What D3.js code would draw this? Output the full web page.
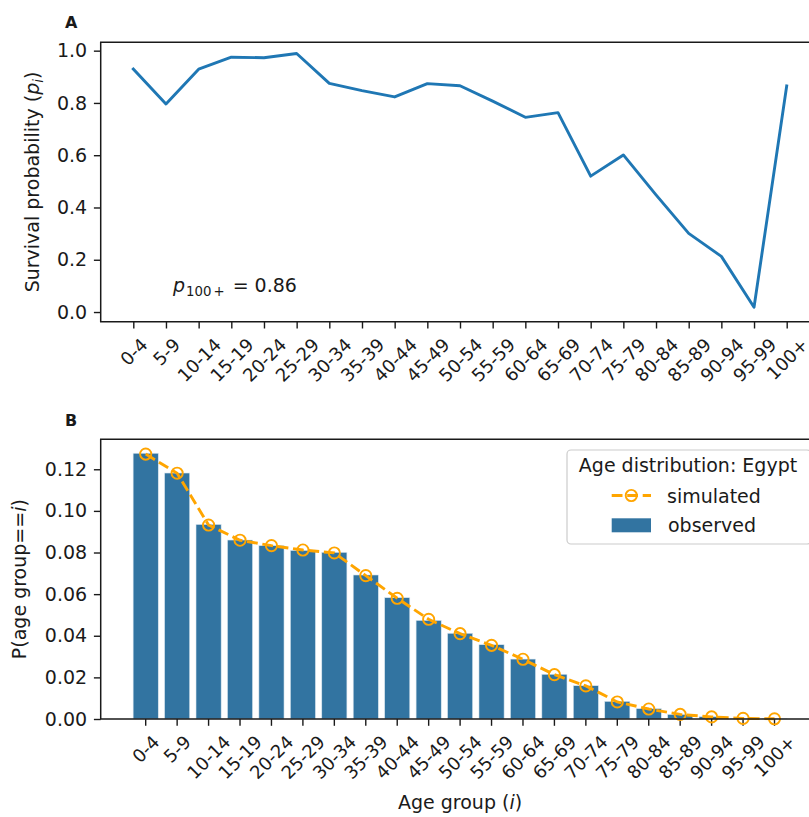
<!DOCTYPE html>
<html><head><meta charset="utf-8">
<script src="https://cdn.jsdelivr.net/npm/d3@7"></script>
<style>
body{margin:0;background:#fff}
svg{display:block}
text{font-family:"DejaVu Sans",sans-serif;fill:#1a1a1a}
</style>
</head><body>
<svg id="c" width="809" height="817"></svg>
<script>
// ---------- data ----------
const ageGroups = ["0-4","5-9","10-14","15-19","20-24","25-29","30-34","35-39","40-44","45-49",
  "50-54","55-59","60-64","65-69","70-74","75-79","80-84","85-89","90-94","95-99","100+"];
const survival = [0.930,0.796,0.929,0.975,0.973,0.989,0.875,0.847,0.823,0.874,
  0.866,0.807,0.745,0.763,0.520,0.601,0.448,0.301,0.213,0.018,0.865];
const observed = [0.1277,0.1182,0.0935,0.0860,0.0833,0.0810,0.0801,0.0692,0.0583,0.0474,
  0.0412,0.0357,0.0288,0.0215,0.0160,0.0085,0.0050,0.0022,0.0011,0.0003,0.0001];
const simulated = [0.1273,0.1181,0.0932,0.0859,0.0833,0.0812,0.0798,0.0689,0.0580,0.0479,
  0.0410,0.0354,0.0287,0.0213,0.0159,0.0082,0.0048,0.0022,0.0010,0.0003,0.0001];
const yTicksA = [0.0,0.2,0.4,0.6,0.8,1.0];
const yTicksB = [0.00,0.02,0.04,0.06,0.08,0.10,0.12];
const pAnnot = "0.86";

// ---------- layout ----------
const FS = 19, FSX = 18;
const TL = 6.8, TP = 6.8;
const L = 100.7, R = 819.4;
const A = {top:42.3, bot:321.7};
const B = {top:439.3, bot:719};
const svg = d3.select("#c");

// scales
const xA = d3.scalePoint().domain(ageGroups).range([133.3, 786.7]);
const yA = d3.scaleLinear().domain([-0.037, 1.032]).range([A.bot, A.top]);
const step = 31.44;
const xB = d3.scaleBand().domain(ageGroups)
  .range([145.7 - 0.5*step, 145.7 + 20.5*step]).paddingInner(0.2).paddingOuter(0.1);
const yB = d3.scaleLinear().domain([0, 0.1344]).range([B.bot, B.top]);

function styleAxis(g){
  g.select(".domain").remove();
  g.selectAll(".tick line").attr("stroke","#1a1a1a").attr("stroke-width",1.4);
  g.selectAll(".tick text").attr("font-size",FS).attr("fill","#1a1a1a")
    .attr("font-family","DejaVu Sans");
}
function rotateLabels(g){
  g.selectAll(".tick text").each(function(){
    const t = d3.select(this);
    t.attr("font-size",FSX).attr("y",0).attr("dy",null).attr("text-anchor","middle")
     .attr("dominant-baseline","central");
    const w = this.getComputedTextLength();
    const h = FSX*0.95;
    const cy = TL + TP + (w + h)/(2*Math.SQRT2);
    t.attr("transform",`translate(0,${cy}) rotate(-45)`);
  });
}

// ---------- Panel A ----------
const gA = svg.append("g");
gA.append("g").attr("transform",`translate(${L},0)`)
  .call(d3.axisLeft(yA).tickValues(yTicksA).tickFormat(d3.format(".1f")).tickSize(TL).tickPadding(TP))
  .call(styleAxis);
const axA = gA.append("g").attr("transform",`translate(0,${A.bot})`)
  .call(d3.axisBottom(xA).tickSize(TL).tickPadding(TP))
  .call(styleAxis);
rotateLabels(axA);

gA.append("path").datum(survival)
  .attr("fill","none").attr("stroke","#1f77b4").attr("stroke-width",2.9)
  .attr("stroke-linejoin","round").attr("stroke-linecap","square")
  .attr("d", d3.line().x((d,i)=>xA(ageGroups[i])).y(d=>yA(d)));

// spines
gA.append("path").attr("fill","none").attr("stroke","#1a1a1a").attr("stroke-width",1.5)
  .attr("d",`M${R},${A.top}H${L}V${A.bot}H${R}`);

// annotation
const ann = gA.append("text").attr("x",173).attr("y",292).attr("font-size",FS);
ann.append("tspan").attr("font-style","italic").text("p");
ann.append("tspan").attr("font-size",FS*0.7).attr("dy",3.5).attr("dx",1).text("100");
ann.append("tspan").attr("font-size",FS*0.7).attr("dx",2).text("+");
ann.append("tspan").attr("dy",-3.5).attr("dx",2).text(" = " + pAnnot);

// ylabel A
const ylA = gA.append("text").attr("font-size",FS).attr("text-anchor","middle")
  .attr("transform",`translate(39,${(A.top+A.bot)/2}) rotate(-90)`);
ylA.append("tspan").text("Survival probability (");
ylA.append("tspan").attr("font-style","italic").text("p");
ylA.append("tspan").attr("font-style","italic").attr("font-size",FS*0.7).attr("dy",3.5).text("i");
ylA.append("tspan").attr("dy",-3.5).text(")");

gA.append("text").attr("x",65).attr("y",28).attr("font-size",16).attr("font-weight","bold").text("A");

// ---------- Panel B ----------
const gB = svg.append("g");
gB.selectAll("rect.bar").data(observed).join("rect").attr("class","bar")
  .attr("x",(d,i)=>xB(ageGroups[i])).attr("width",xB.bandwidth())
  .attr("y",d=>yB(d)).attr("height",d=>yB(0)-yB(d))
  .attr("fill","#3274a1").attr("stroke","#dce8f0").attr("stroke-width",0.6);

gB.append("g").attr("transform",`translate(${L},0)`)
  .call(d3.axisLeft(yB).tickValues(yTicksB).tickFormat(d3.format(".2f")).tickSize(TL).tickPadding(TP))
  .call(styleAxis);
const axB = gB.append("g").attr("transform",`translate(0,${B.bot})`)
  .call(d3.axisBottom(xB).tickSize(TL).tickPadding(TP))
  .call(styleAxis);
rotateLabels(axB);

const cx = (d,i)=>xB(ageGroups[i]) + xB.bandwidth()/2;
gB.append("path").datum(simulated)
  .attr("fill","none").attr("stroke","#ffa500").attr("stroke-width",2.9)
  .attr("stroke-dasharray","10.8,4.7")
  .attr("d", d3.line().x(cx).y(d=>yB(d)));
gB.selectAll("circle.sim").data(simulated).join("circle").attr("class","sim")
  .attr("cx",cx).attr("cy",d=>yB(d)).attr("r",5.6)
  .attr("fill","none").attr("stroke","#ffa500").attr("stroke-width",1.9);

gB.append("path").attr("fill","none").attr("stroke","#1a1a1a").attr("stroke-width",1.5)
  .attr("d",`M${R},${B.top}H${L}V${B.bot}H${R}`);

// labels
const ylB = gB.append("text").attr("font-size",FS).attr("text-anchor","middle")
  .attr("transform",`translate(25.5,${(B.top+B.bot)/2}) rotate(-90)`);
ylB.append("tspan").text("P(age group==");
ylB.append("tspan").attr("font-style","italic").text("i");
ylB.append("tspan").text(")");

const xlB = gB.append("text").attr("font-size",FS).attr("text-anchor","middle")
  .attr("x",(L+R)/2).attr("y",809);
xlB.append("tspan").text("Age group (");
xlB.append("tspan").attr("font-style","italic").text("i");
xlB.append("tspan").text(")");

gB.append("text").attr("x",65).attr("y",426).attr("font-size",16).attr("font-weight","bold").text("B");

// legend
const lg = gB.append("g");
lg.append("rect").attr("x",567).attr("y",450).attr("width",244).attr("height",94)
  .attr("rx",4).attr("fill","#fff").attr("fill-opacity",0.8)
  .attr("stroke","#cccccc").attr("stroke-width",1.2);
lg.append("text").attr("x",688).attr("y",472).attr("font-size",FS).attr("text-anchor","middle")
  .text("Age distribution: Egypt");
lg.append("line").attr("x1",611.7).attr("x2",651).attr("y1",495.5).attr("y2",495.5)
  .attr("stroke","#ffa500").attr("stroke-width",2.9).attr("stroke-dasharray","10.8,4.7")
  .attr("stroke-dashoffset",0);
lg.append("circle").attr("cx",631.3).attr("cy",495.5).attr("r",5.6)
  .attr("fill","none").attr("stroke","#ffa500").attr("stroke-width",1.9);
lg.append("text").attr("x",667).attr("y",502.5).attr("font-size",FS).text("simulated");
lg.append("rect").attr("x",611.7).attr("y",518.3).attr("width",39.3).attr("height",14)
  .attr("fill","#3274a1");
lg.append("text").attr("x",668).attr("y",531.7).attr("font-size",FS).text("observed");
</script>
</body></html>
